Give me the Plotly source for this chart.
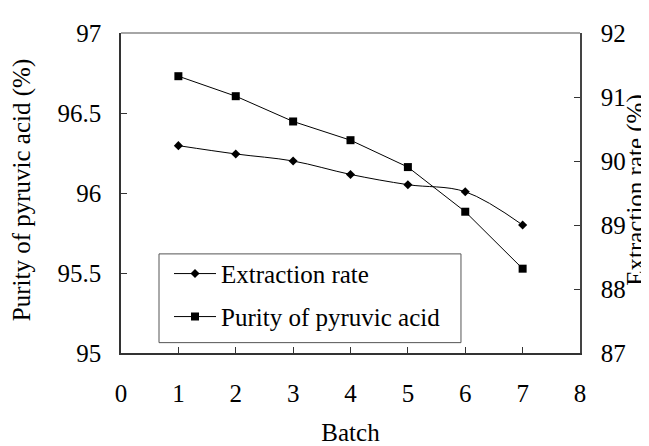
import plotly.graph_objects as go

batch = [1, 2, 3, 4, 5, 6, 7]
extraction_rate = [90.24, 90.11, 90.00, 89.79, 89.63, 89.52, 89.00]
purity = [96.73, 96.605, 96.447, 96.33, 96.162, 95.883, 95.527]

x_ticks = [0, 1, 2, 3, 4, 5, 6, 7, 8]
left_ticks = [95, 95.5, 96, 96.5, 97]
left_labels = ["95", "95.5", "96", "96.5", "97"]
right_ticks = [87, 88, 89, 90, 91, 92]

x_title = "Batch"
left_title = "Purity of pyruvic acid (%)"
right_title = "Extraction rate (%)"

FONT = "Liberation Serif, Times New Roman, serif"
AX = "#333333"
TICKFONT = dict(family=FONT, size=25, color="black")
TITLEFONT = dict(family=FONT, size=25, color="black")

fig = go.Figure()
fig.add_trace(go.Scatter(
    x=batch, y=extraction_rate, name="Extraction rate", yaxis="y2",
    mode="lines+markers", line=dict(color="black", width=1, shape="spline", smoothing=1),
    marker=dict(symbol="diamond", size=7, color="black"),
    legendgroup="a",
))
fig.add_trace(go.Scatter(
    x=batch, y=purity, name="Purity of pyruvic acid", yaxis="y",
    mode="lines+markers", line=dict(color="black", width=1),
    marker=dict(symbol="square", size=8, color="black"),
    legendgroup="b",
))

fig.update_layout(
    width=649, height=446,
    margin=dict(l=113, r=77, t=19, b=88),
    paper_bgcolor="white", plot_bgcolor="white",
    font=dict(family=FONT, size=25, color="black"),
    showlegend=True,
    legend=dict(x=0.1046, y=0.3193, xanchor="left", yanchor="top",
                bgcolor="rgba(0,0,0,0)", borderwidth=0,
                font=dict(family=FONT, size=25, color="black"), itemwidth=42,
                traceorder="grouped", tracegroupgap=7.5),
    xaxis=dict(range=[0, 8], tickvals=x_ticks, ticks="inside", ticklen=6,
               tickcolor=AX, showline=True, linecolor=AX, linewidth=1.5,
               showgrid=False, zeroline=False, ticklabelstandoff=17,
               tickfont=TICKFONT,
               title=dict(text=x_title, standoff=18, font=TITLEFONT)),
    yaxis=dict(range=[95, 97], tickvals=left_ticks, ticktext=left_labels,
               ticks="inside", ticklen=6, tickcolor=AX, showline=True,
               linecolor=AX, linewidth=1.5, showgrid=False, zeroline=False,
               ticklabelstandoff=13, tickfont=TICKFONT),
    yaxis2=dict(range=[87, 92], tickvals=right_ticks, overlaying="y", side="right",
                ticks="inside", ticklen=6, tickcolor=AX, showline=True,
                linecolor="#444444", linewidth=1.5, showgrid=False, zeroline=False,
                ticklabelstandoff=14, tickfont=TICKFONT),
    annotations=[
        dict(text=left_title, xref="paper", yref="paper", x=-0.217, y=0.51,
             xanchor="center", yanchor="middle", textangle=-90, showarrow=False,
             font=TITLEFONT),
        dict(text=right_title, xref="paper", yref="paper", x=1.122, y=0.51,
             xanchor="center", yanchor="middle", textangle=-90, showarrow=False,
             font=TITLEFONT),
    ],
    shapes=[
        dict(type="line", xref="paper", yref="paper", x0=0, x1=1, y0=1, y1=1,
             line=dict(color="#888888", width=1.5)),
        dict(type="rect", xref="paper", yref="paper", x0=0.0828, x1=0.7407,
             y0=0.0324, y1=0.3097, line=dict(color="#555555", width=1)),
    ],
)

fig.write_html("out.html")
